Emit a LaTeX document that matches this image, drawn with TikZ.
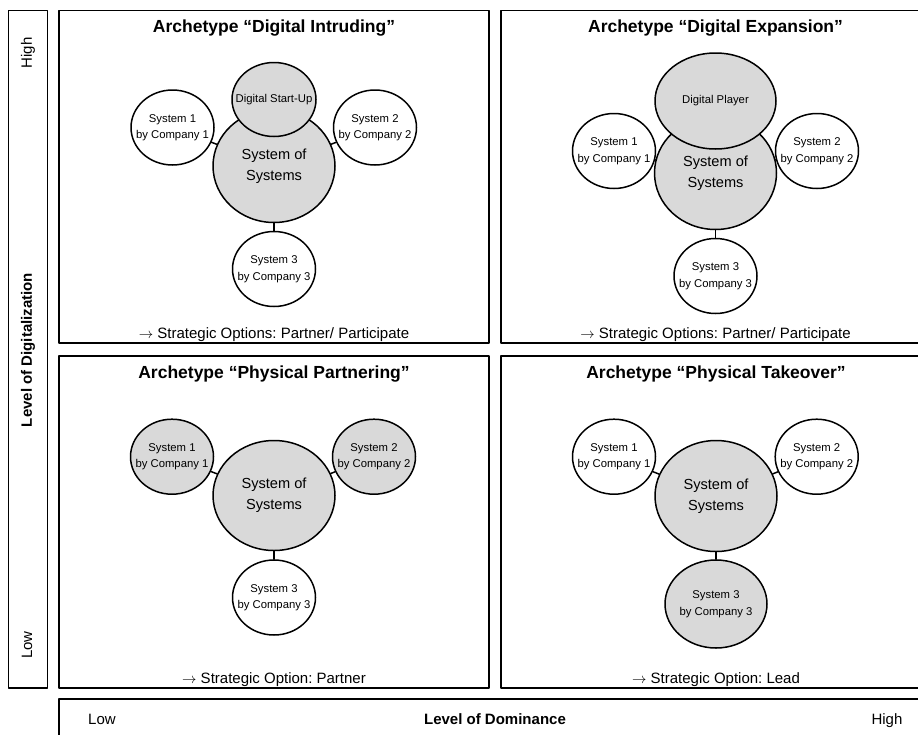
\documentclass[tikz,border=0pt]{standalone}
\usepackage{fontspec}
\setmainfont{Liberation Sans}
\usetikzlibrary{shapes.geometric}
\definecolor{lightgrey}{HTML}{D9D9D9}
\frenchspacing

\tikzset{
  frame/.style={draw, line width=1.5pt},
  sys/.style={ellipse, draw, line width=1.5pt, fill=white,
    inner xsep=-12pt, inner ysep=-4pt,
    minimum width=83pt, minimum height=75pt, align=center,
    font=\fontsize{11.3}{16.5}\selectfont},
  sysgray/.style={sys, fill=lightgrey},
  sos/.style={sys, fill=lightgrey, minimum width=122pt, minimum height=113pt,
    font=\fontsize{14.6}{21}\selectfont},
  link/.style={line width=1.5pt},
  archtitle/.style={anchor=base, font=\fontsize{17.5}{20}\selectfont\bfseries},
  optiontext/.style={anchor=base, font=\fontsize{15}{18}\selectfont},
  axislabel/.style={font=\fontsize{15}{18}\selectfont},
}

\begin{document}
\begin{tikzpicture}[x=1pt, y=-1pt, line cap=round, line join=round]
\useasboundingbox (0,0) rectangle (918,734);

% frames
\draw[frame] (8.5,10.7) rectangle (47.5,688);
\draw[frame] (59,10.7) rectangle (489,343);
\draw[frame] (501,10.7) rectangle (931,343);
\draw[frame] (59,356) rectangle (489,688);
\draw[frame] (501,356) rectangle (931,688);
\draw[frame] (59,699) rectangle (931,760);

% axes
\node[axislabel, rotate=90] (dig-high) at (28,53) {High};
\node[axislabel, rotate=90, font=\fontsize{15}{18}\selectfont\bfseries] (dig-label) at (28,350) {Level of Digitalization};
\node[axislabel, rotate=90] (dig-low) at (27,645) {Low};
\node[axislabel, anchor=base] (dom-low) at (102,724) {Low};
\node[axislabel, anchor=base, font=\fontsize{15}{18}\selectfont\bfseries] (dom-label) at (495,724) {Level of Dominance};
\node[axislabel, anchor=base] (dom-high) at (887,724) {High};

\begin{scope}[shift={(274,0)}]
\node[archtitle] (tl-title) at (0,32) {Archetype “Digital Intruding”};
\node[sos] (tl-sos) at (0,166) {System of\\Systems};
\node[sysgray, minimum width=84pt, minimum height=74pt] (tl-top) at (0,99.5) {Digital Start-Up};
\node[sys] (tl-s1) at (-101.5,127.5) {System 1\\by Company 1};
\node[sys] (tl-s2) at (101,127.5) {System 2\\by Company 2};
\node[sys] (tl-s3) at (0,269) {System 3\\by Company 3};
\draw[link] (tl-s1) -- (tl-sos);
\draw[link] (tl-s2) -- (tl-sos);
\draw[link] (tl-s3) -- (tl-sos);
\node[optiontext] (tl-option) at (0,338) {\(\rightarrow\) Strategic Options: Partner/ Participate};
\end{scope}

\begin{scope}[shift={(715.5,0)}]
\node[archtitle] (tr-title) at (0,32) {Archetype “Digital Expansion”};
\node[sos] (tr-sos) at (0,173) {System of\\Systems};
\node[sysgray, minimum width=121pt, minimum height=96pt] (tr-top) at (0,101) {Digital Player};
\node[sys] (tr-s1) at (-101.5,151) {System 1\\by Company 1};
\node[sys] (tr-s2) at (101.5,151) {System 2\\by Company 2};
\node[sys] (tr-s3) at (0,276) {System 3\\by Company 3};
\draw[link] (tr-s1) -- (tr-sos);
\draw[link] (tr-s2) -- (tr-sos);
\draw[link] (tr-s3) -- (tr-sos);
\node[optiontext] (tr-option) at (0,338) {\(\rightarrow\) Strategic Options: Partner/ Participate};
\end{scope}

\begin{scope}[shift={(274,0)}]
\node[archtitle] (bl-title) at (0,378) {Archetype “Physical Partnering”};
\node[sos, minimum height=110pt] (bl-sos) at (0,495.5) {System of\\Systems};
\node[sysgray] (bl-s1) at (-102,456.7) {System 1\\by Company 1};
\node[sysgray] (bl-s2) at (100,456.7) {System 2\\by Company 2};
\node[sys] (bl-s3) at (0,597.5) {System 3\\by Company 3};
\draw[link] (bl-s1) -- (bl-sos);
\draw[link] (bl-s2) -- (bl-sos);
\draw[link] (bl-s3) -- (bl-sos);
\node[optiontext] (bl-option) at (0,683.5) {\(\rightarrow\) Strategic Option: Partner};
\end{scope}

\begin{scope}[shift={(716,0)}]
\node[archtitle] (br-title) at (0,378) {Archetype “Physical Takeover”};
\node[sos, minimum height=111pt] (br-sos) at (0,496) {System of\\Systems};
\node[sys] (br-s1) at (-102,456.7) {System 1\\by Company 1};
\node[sys] (br-s2) at (100.7,456.7) {System 2\\by Company 2};
\node[sysgray, minimum width=102pt, minimum height=88pt] (br-s3) at (0,604) {System 3\\by Company 3};
\draw[link] (br-s1) -- (br-sos);
\draw[link] (br-s2) -- (br-sos);
\draw[link] (br-s3) -- (br-sos);
\node[optiontext] (br-option) at (0,683.5) {\(\rightarrow\) Strategic Option: Lead};
\end{scope}
\end{tikzpicture}
\end{document}
